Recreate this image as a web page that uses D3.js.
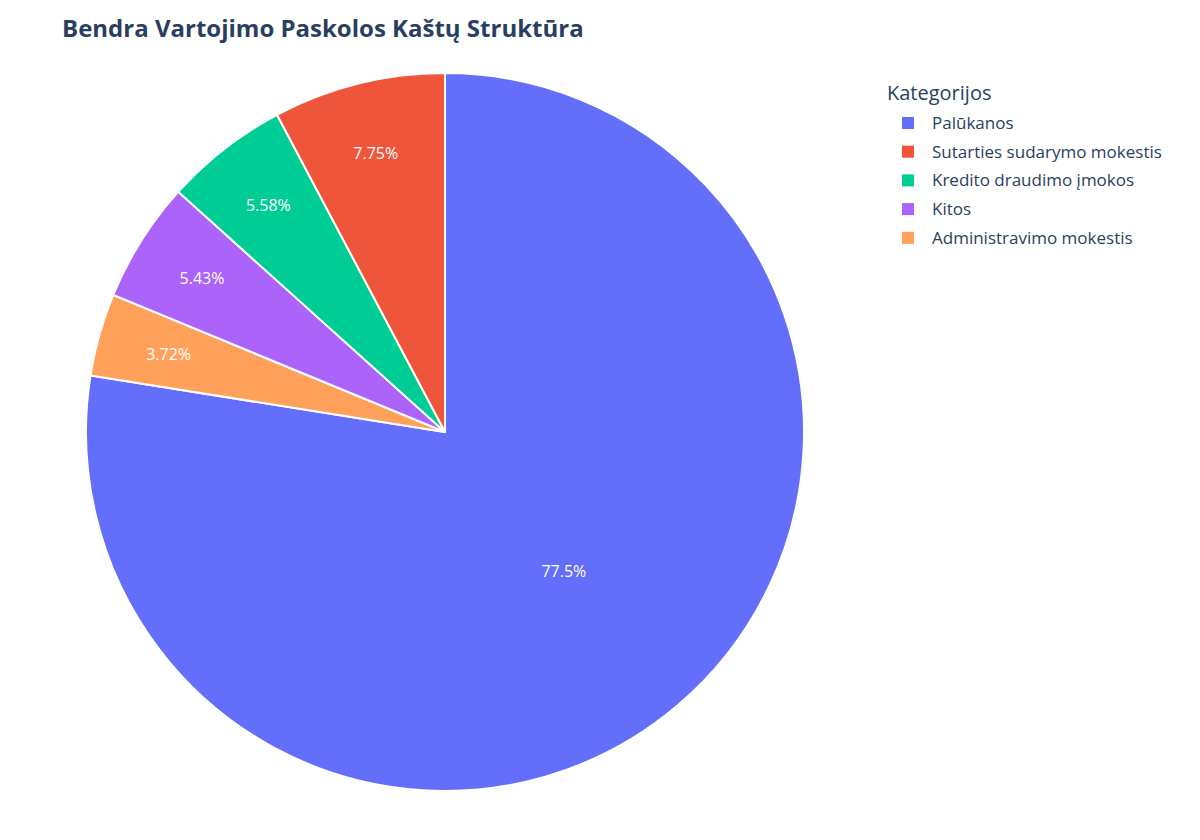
<!DOCTYPE html>
<html><head><meta charset="utf-8">
<script src="https://cdn.jsdelivr.net/npm/d3@7"></script>
<style>body{margin:0;background:#fff}text{font-family:"Open Sans",Arial,sans-serif}</style>
</head><body><svg id="c" width="1200" height="840"></svg>
<script>
const sliceOrder = ["Palūkanos","Administravimo mokestis","Kitos","Kredito draudimo įmokos","Sutarties sudarymo mokestis"];
const sliceValues = [77.5, 3.72, 5.43, 5.58, 7.75];
const sliceLabels = ["77.5%","3.72%","5.43%","5.58%","7.75%"];
const legendOrder = ["Palūkanos","Sutarties sudarymo mokestis","Kredito draudimo įmokos","Kitos","Administravimo mokestis"];
const colors = {"Palūkanos":"#636efa","Sutarties sudarymo mokestis":"#ef553b","Kredito draudimo įmokos":"#00cc96","Kitos":"#ab63fa","Administravimo mokestis":"#ffa15a"};

const svg = d3.select("#c");
const cx = 445, cy = 432, R = 359;
svg.append("text").attr("x",62).attr("y",37).attr("font-size",24).attr("font-weight","bold").attr("fill","#2a3f5f").text("Bendra Vartojimo Paskolos Kaštų Struktūra");

const data = sliceOrder.map((n,i)=>({name:n,value:sliceValues[i],label:sliceLabels[i]}));
const pie = d3.pie().sort(null).value(d=>d.value);
const arc = d3.arc().innerRadius(0).outerRadius(R);
const g = svg.append("g").attr("transform",`translate(${cx},${cy})`);
const arcs = pie(data);
g.selectAll("path").data(arcs).join("path").attr("d",arc).attr("fill",d=>colors[d.data.name]).attr("stroke","#fff").attr("stroke-width",2);
g.selectAll("text").data(arcs).join("text")
 .attr("transform",d=>{const a=(d.startAngle+d.endAngle)/2;const r=R*(d.data.value>50?0.51:0.8);return `translate(${r*Math.sin(a)},${-r*Math.cos(a)})`;})
 .attr("text-anchor","middle").attr("dy","0.35em").attr("fill","#fff").attr("font-size",16).text(d=>d.data.label);

const lg = svg.append("g");
lg.append("text").attr("x",887).attr("y",100).attr("font-size",20).attr("fill","#2a3f5f").text("Kategorijos");
legendOrder.forEach((n,i)=>{
  const y = 123 + i*28.7;
  lg.append("rect").attr("x",902).attr("y",y-6).attr("width",12).attr("height",12).attr("fill",colors[n]);
  lg.append("text").attr("x",932).attr("y",y).attr("dy","0.35em").attr("font-size",17).attr("fill","#2a3f5f").text(n);
});
</script></body></html>
